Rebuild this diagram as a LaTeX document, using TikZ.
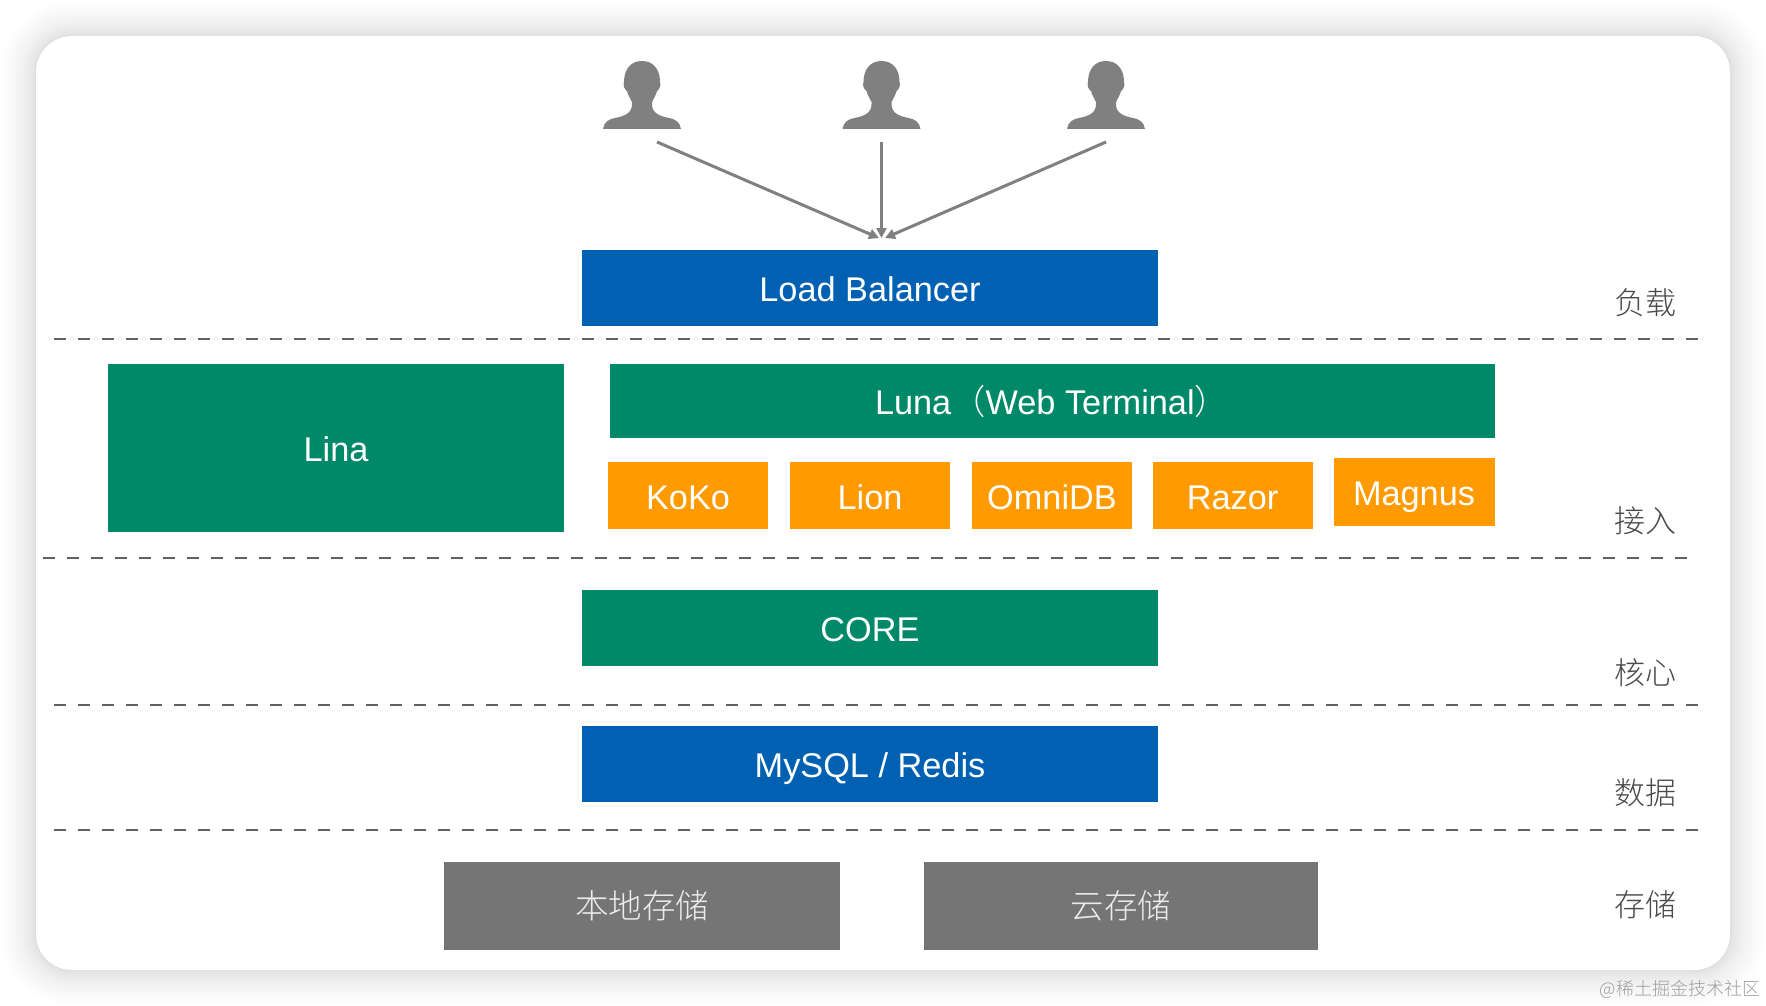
\documentclass[tikz,border=0pt]{standalone}
\usepackage{fontspec}
\setmainfont{Liberation Sans}
\newfontfamily\cjk{Noto Sans CJK SC Light}
\usetikzlibrary{arrows.meta}
\definecolor{blueb}{HTML}{0061B2}
\definecolor{greenb}{HTML}{008968}
\definecolor{orangeb}{HTML}{FF9A00}
\definecolor{grayb}{HTML}{757575}
\definecolor{usergray}{HTML}{808080}
\definecolor{dashgray}{HTML}{606060}
\definecolor{labelgray}{HTML}{4A4A4A}
\tikzset{
  box/.style={inner sep=0pt,outer sep=0pt,text=white,font=\fontsize{34.3}{40}\selectfont,align=center,text height=30pt,text depth=2.5pt},
  bluebox/.style={box,fill=blueb},
  greenbox/.style={box,fill=greenb},
  orangebox/.style={box,fill=orangeb,minimum width=160pt,minimum height=67pt},
  graybox/.style={box,fill=grayb,minimum height=88pt,text=white!92!black,font=\fontsize{33.5}{40}\selectfont\cjk,text height=28pt,text depth=3pt},
  sidelabel/.style={inner sep=0pt,text=labelgray,font=\fontsize{31}{36}\selectfont\cjk},
  seplinestyle/.style={draw=dashgray,line width=2pt,dash pattern=on 12pt off 12pt},
  userarrow/.style={draw=usergray,line width=3pt,-{Triangle[length=10pt,width=10pt]}},
  person/.pic={
    \fill[usergray] (-39,68) .. controls (-38,61) and (-33,58) .. (-27,57)
      .. controls (-17,55) and (-10,52) .. (-10,43) -- (-10,41)
      .. controls (-12,37) and (-14,34) .. (-15,30)
      .. controls (-18,28) and (-19,24) .. (-18,21)
      .. controls (-18,8) and (-11,0) .. (0,0)
      .. controls (11,0) and (18,8) .. (18,21)
      .. controls (19,24) and (18,28) .. (15,30)
      .. controls (14,34) and (12,37) .. (10,41) -- (10,43)
      .. controls (10,52) and (17,55) .. (27,57)
      .. controls (33,58) and (38,61) .. (39,68) -- cycle;
  }
}
\begin{document}
\begin{tikzpicture}[x=1pt,y=-1pt]
\useasboundingbox (0,0) rectangle (1766,1006);
% shadow
\foreach \i in {1,...,36}{
  \pgfmathsetmacro{\e}{\i*\i/36}
  \fill[black,fill opacity=0.005,rounded corners={(36+\e)*1pt}]
    ({36-\e},{36-\e}) rectangle ({1730+\e},{970+\e});
}
\fill[white,rounded corners=36pt] (36,36) rectangle (1730,970);
% users
\pic at (642,61) {person};
\pic at (881.5,61) {person};
\pic at (1106,61) {person};
\coordinate (u1) at (657,142);
\coordinate (u2) at (881.5,142);
\coordinate (u3) at (1106,142);
\coordinate (t1) at (879,238);
\coordinate (t2) at (881.5,238);
\coordinate (t3) at (885,238);
\draw[userarrow] (u1) -- (t1);
\draw[userarrow] (u2) -- (t2);
\draw[userarrow] (u3) -- (t3);
% boxes
\node[bluebox,minimum width=576pt,minimum height=76pt] (lb) at (870,288) {Load Balancer};
\node[greenbox,minimum width=456pt,minimum height=168pt] (lina) at (336,448) {Lina};
\node[greenbox,minimum width=885pt,minimum height=74pt] (luna) at (1052,401) {Luna{\cjk（}Web Terminal{\cjk）}};
\node[orangebox] (koko) at (688,495.5) {KoKo};
\node[orangebox] (lion) at (870,495.5) {Lion};
\node[orangebox] (omni) at (1052,495.5) {OmniDB};
\node[orangebox] (razor) at (1232.5,495.5) {Razor};
\node[orangebox,minimum width=161pt,minimum height=68pt] (magnus) at (1414,492) {Magnus};
\node[greenbox,minimum width=576pt,minimum height=76pt] (core) at (870,628) {CORE};
\node[bluebox,minimum width=576pt,minimum height=76pt] (mysql) at (870,764) {MySQL / Redis};
\node[graybox,minimum width=396pt] (local) at (642,906) {本地存储};
\node[graybox,minimum width=394pt] (cloud) at (1121,906) {云存储};
% separators
\coordinate (d1a) at (54,338.5);  \coordinate (d1b) at (1700,338.5);
\coordinate (d2a) at (43,557.5);  \coordinate (d2b) at (1688,557.5);
\coordinate (d3a) at (54,704.5);  \coordinate (d3b) at (1700,704.5);
\coordinate (d4a) at (54,829.5);  \coordinate (d4b) at (1700,829.5);
\draw[seplinestyle] (d1a) -- (d1b);
\draw[seplinestyle] (d2a) -- (d2b);
\draw[seplinestyle] (d3a) -- (d3b);
\draw[seplinestyle] (d4a) -- (d4b);
% side labels
\node[sidelabel] (s1) at (1645.5,303) {负载};
\node[sidelabel] (s2) at (1645.5,521) {接入};
\node[sidelabel] (s3) at (1645.5,672.5) {核心};
\node[sidelabel] (s4) at (1645.5,793) {数据};
\node[sidelabel] (s5) at (1645.5,905) {存储};
% watermark
\node[inner sep=0pt,text=black!38,font=\fontsize{18}{22}\selectfont\cjk] (wm) at (1680,989) {@稀土掘金技术社区};
\end{tikzpicture}
\end{document}
